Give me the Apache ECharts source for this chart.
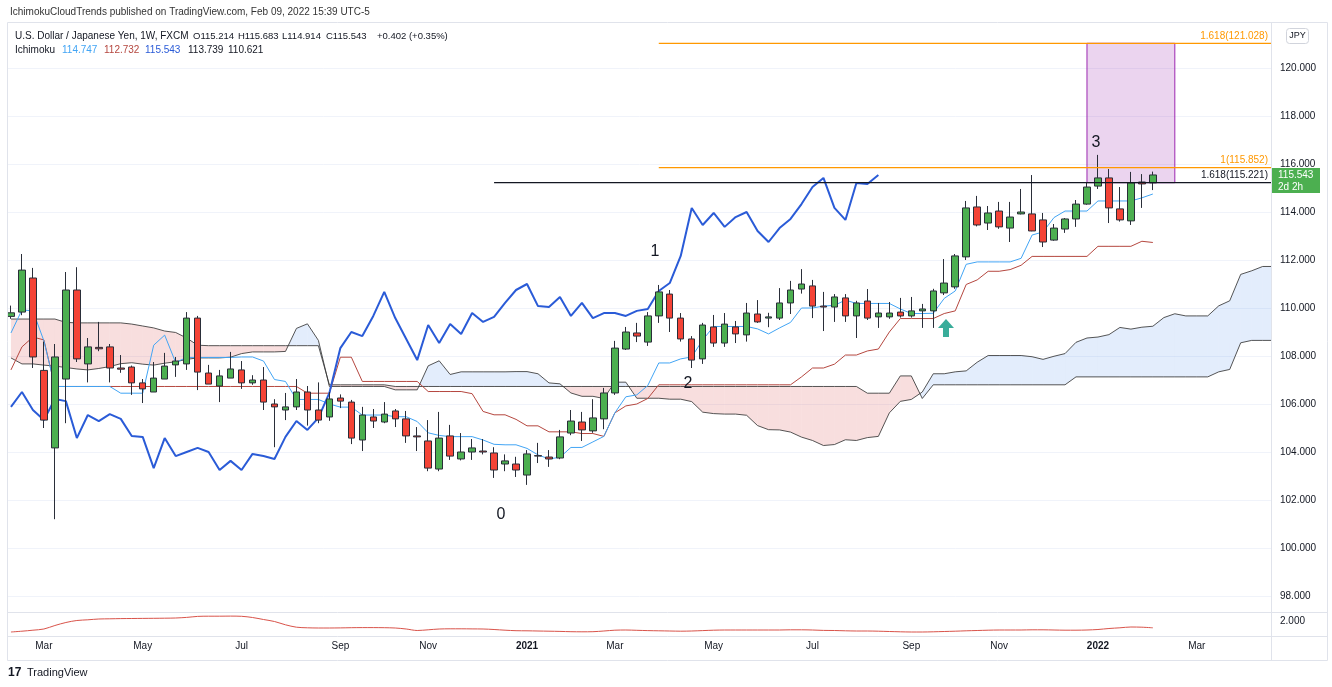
<!DOCTYPE html>
<html><head><meta charset="utf-8">
<script src="https://cdn.jsdelivr.net/npm/echarts@6/dist/echarts.min.js"></script>
<style>html,body{margin:0;padding:0;background:#fff;}#c{width:1332px;height:687px;}</style>
</head><body><div id="c"></div>
<script>
// week index: 0 = week of 2021-01-04 ; first candle = week of 2020-02-10
const FIRST_WEEK = -47;
const DISPLACEMENT = 25;
const CLOUD_FIRST = -47;

const opens = [
109.65,109.83,111.25,107.40,104.17,107.04,110.75,107.67,108.36,108.38,
107.50,107.54,106.88,106.50,107.04,107.63,107.67,109.58,107.29,106.75,
107.08,107.42,106.88,107.00,106.00,105.75,105.88,106.50,105.75,105.46,
106.25,106.08,104.50,105.46,105.25,105.71,105.38,104.67,104.46,103.29,
104.67,103.71,104.00,104.04,103.96,103.50,103.50,103.04,103.85,103.79,
103.75,104.79,105.25,104.88,105.38,106.46,108.29,108.96,108.58,109.67,
110.58,109.58,108.71,107.88,109.21,108.54,109.21,108.88,109.75,109.58,
109.58,110.21,110.79,110.92,110.08,110.04,110.42,109.67,110.29,109.63,
109.63,109.83,109.67,109.88,109.88,110.63,110.88,112.13,114.21,113.54,
114.04,113.33,113.92,113.92,113.67,112.83,113.29,113.71,114.33,115.08,
115.42,114.13,113.63,115.25,115.214];
const closes = [
109.80,111.58,107.96,105.33,107.96,110.75,107.88,108.38,108.30,107.50,
107.45,106.88,106.63,107.08,107.58,107.79,109.58,107.33,106.83,107.17,
107.46,106.88,107.00,106.08,105.88,105.88,106.50,105.75,105.33,106.21,
106.12,104.58,105.54,105.29,105.58,105.38,104.67,104.63,103.33,104.58,
103.83,104.00,104.17,104.00,103.25,103.63,103.25,103.92,103.83,103.71,
104.63,105.29,104.92,105.42,106.46,108.33,109.00,108.83,109.67,110.67,
109.58,108.71,107.83,109.29,108.54,109.33,108.92,109.79,109.42,109.63,
110.21,110.75,111.00,110.08,110.04,110.46,109.67,110.21,109.58,109.79,
109.79,109.67,109.88,109.96,110.71,111.04,112.17,114.17,113.46,113.96,
113.38,113.79,114.00,113.21,112.75,113.33,113.71,114.33,115.04,115.42,
114.17,113.67,115.21,115.17,115.543];
const highs = [
110.10,112.25,111.67,108.60,108.50,111.50,111.70,108.75,109.42,108.50,
108.04,107.60,107.04,107.75,108.13,107.96,109.83,109.67,107.63,107.42,
108.17,107.79,107.20,107.54,106.20,106.46,107.04,106.75,106.90,106.50,
106.40,106.17,105.88,105.79,106.08,105.79,105.71,105.04,105.33,105.67,
105.13,104.79,104.54,104.54,104.20,103.90,103.80,104.08,104.38,104.08,
104.92,105.75,105.67,106.20,106.67,108.63,109.21,109.38,109.83,110.96,
110.75,109.79,108.83,109.38,109.71,109.79,109.46,110.21,110.33,109.80,
110.83,111.13,111.62,111.17,110.67,110.58,110.58,110.30,110.79,110.21,
110.25,110.42,110.46,110.17,110.80,112.04,112.25,114.46,114.67,114.25,
114.42,114.42,114.96,115.54,113.96,113.50,113.75,114.50,115.21,116.38,
115.79,115.04,115.67,115.58,115.683];
const lows = [
109.55,109.70,107.50,105.00,101.20,105.20,107.75,106.90,108.20,106.90,
107.30,106.38,106.04,106.50,107.04,107.13,107.42,106.58,106.83,106.08,
107.08,106.63,106.80,105.75,104.20,105.33,105.75,105.10,105.20,105.30,
105.83,104.33,104.04,105.00,105.20,105.04,104.38,104.04,103.20,103.20,
103.67,103.65,103.67,103.90,102.92,103.20,102.96,102.63,103.54,103.38,
103.70,104.70,104.46,104.80,104.95,106.38,108.25,108.58,108.42,109.38,
109.00,108.60,107.50,107.67,108.38,108.38,108.54,108.60,109.38,109.20,
109.50,109.75,110.60,109.58,109.04,109.42,109.42,108.75,109.50,109.17,
109.55,109.60,109.60,109.17,109.17,110.54,110.80,112.00,113.40,113.25,
113.30,112.75,113.90,113.20,112.54,112.80,113.13,113.38,114.30,114.96,
113.54,113.60,113.46,114.17,114.914];

const tenkan = [
108.96,109.92,109.88,108.63,106.73,106.73,106.73,106.73,106.73,106.73,
106.45,106.45,106.45,108.45,108.87,107.73,107.94,107.94,107.94,107.94,
107.94,107.96,107.96,107.79,107.02,106.94,106.19,106.19,106.19,106.00,
105.87,105.87,105.54,105.54,105.54,105.47,105.47,105.27,104.80,104.69,
104.64,104.64,104.64,104.50,104.32,104.30,104.30,104.15,103.88,103.71,
103.78,104.19,104.19,104.42,104.65,105.63,106.30,106.38,106.77,107.71,
107.71,107.88,107.96,108.67,109.23,109.23,109.23,109.23,109.13,108.92,
109.17,109.40,110.00,110.00,110.08,110.11,110.33,110.19,110.19,110.19,
110.19,109.96,109.77,109.77,109.78,110.40,110.71,111.82,111.92,111.92,
111.92,111.92,112.07,113.04,113.17,113.77,114.04,114.04,114.04,114.46,
114.46,114.46,114.46,114.59,114.75];
const kijun = [
107.42,108.38,108.79,108.67,106.73,106.73,106.73,106.73,106.73,106.73,
106.73,106.73,106.73,106.73,106.73,106.73,106.73,106.73,106.73,106.73,
106.73,106.73,106.73,106.73,106.73,106.73,106.73,106.45,106.45,106.45,
107.95,107.95,106.94,106.94,106.94,106.94,106.94,106.94,106.52,106.52,
106.52,106.52,106.43,105.69,105.55,105.55,105.36,105.09,105.09,104.84,
104.84,104.84,104.77,104.77,104.65,105.63,105.92,106.00,106.23,106.80,
106.80,106.80,106.80,106.80,106.80,106.80,106.80,106.80,106.80,106.80,
106.80,106.80,107.13,107.50,107.50,107.66,108.04,108.04,108.21,108.29,
109.00,109.56,109.56,109.56,109.56,109.77,109.88,110.98,111.17,111.53,
111.53,111.60,111.78,112.15,112.15,112.15,112.15,112.15,112.15,112.57,
112.57,112.57,112.57,112.78,112.73];

// leading spans, plotted positions -47 .. 68
const senkouA = [
107.92,107.67,107.67,107.62,107.58,107.52,107.46,107.42,107.48,107.56,
107.68,107.72,107.66,107.62,107.70,107.76,107.86,107.92,107.92,107.92,
107.95,108.10,108.17,108.17,108.17,108.19,109.15,109.34,108.65,106.73,
106.73,106.73,106.73,106.73,106.73,106.59,106.59,106.59,107.59,107.80,
107.23,107.34,107.34,107.34,107.34,107.34,107.35,107.35,107.26,106.88,
106.84,106.46,106.32,106.32,106.23,106.91,106.91,106.24,106.24,106.24,
106.20,106.20,106.10,105.66,105.60,105.58,105.58,105.53,105.10,104.93,
104.92,104.83,104.62,104.48,104.27,104.31,104.51,104.48,104.60,104.65,
105.63,106.11,106.19,106.50,107.26,107.26,107.34,107.38,107.74,108.02,
108.02,108.02,108.02,107.97,107.86,107.99,108.10,108.57,108.75,108.79,
108.89,109.19,109.12,109.20,109.24,109.60,109.76,109.67,109.67,109.67,
110.09,110.30,111.40,111.55,111.73,111.73];
const senkouB = [
109.54,109.54,109.54,109.54,109.54,109.40,109.38,109.38,109.38,109.38,
109.38,109.33,109.25,109.17,109.04,108.98,108.75,108.45,108.43,108.43,
108.43,108.43,108.43,108.43,108.43,108.43,108.43,108.43,108.43,106.80,
106.80,106.80,106.80,106.80,106.80,106.73,106.73,106.73,106.73,106.73,
106.73,106.73,106.73,106.73,106.73,106.73,106.73,106.73,106.73,106.73,
106.73,106.73,106.73,106.73,106.73,106.73,106.73,106.73,106.73,106.73,
106.73,106.73,106.73,106.73,106.73,106.73,106.73,106.73,106.73,106.73,
106.73,106.73,106.73,106.73,106.73,106.73,106.73,106.73,106.45,106.45,
106.45,107.17,107.17,106.23,106.80,106.80,106.80,106.80,106.80,106.80,
106.80,106.80,106.80,106.80,106.80,106.80,106.80,107.13,107.13,107.13,
107.13,107.13,107.13,107.13,107.13,107.13,107.13,107.13,107.13,107.13,
107.34,107.44,108.55,108.65,108.65,108.65];

// lower pane indicator
const atr = [
0.90,0.98,1.08,1.20,1.55,1.85,2.05,2.12,2.20,2.22,
2.24,2.25,2.26,2.27,2.28,2.30,2.36,2.46,2.48,2.48,
2.49,2.47,2.35,2.15,1.95,1.62,1.38,1.32,1.30,1.30,
1.31,1.33,1.34,1.34,1.33,1.30,1.20,1.05,1.12,1.20,
1.22,1.22,1.21,1.20,1.15,1.08,1.03,1.02,1.00,0.98,
0.96,0.93,0.92,0.93,1.00,1.08,1.10,1.07,1.04,1.02,
1.00,0.98,1.00,1.04,1.08,1.10,1.10,1.10,1.10,1.10,
1.10,1.12,1.12,1.10,1.06,1.05,1.02,1.00,1.00,0.98,
0.95,0.92,0.90,0.90,0.92,0.95,0.98,1.02,1.05,1.08,
1.10,1.10,1.10,1.12,1.12,1.10,1.08,1.08,1.10,1.15,
1.25,1.32,1.40,1.38,1.32];

const monthTicks = [
  {w:-44,label:'Mar'},{w:-35,label:'May'},{w:-26,label:'Jul'},{w:-17,label:'Sep'},{w:-9,label:'Nov'},
  {w:0,label:'2021'},{w:8,label:'Mar'},{w:17,label:'May'},{w:26,label:'Jul'},{w:35,label:'Sep'},
  {w:43,label:'Nov'},{w:52,label:'2022'},{w:61,label:'Mar'}];
const fibLevels = [
  {ratio:'1.618', price:121.028, from:12, kind:'ext'},
  {ratio:'1', price:115.852, from:12, kind:'ext'},
  {ratio:'1.618', price:115.221, from:-3, kind:'base'}];
const boxZone = {from:51, to:59, top:121.028, bottom:115.221};
const waveLabels = [
  {text:'0', w:-2.37, price:101.38},
  {text:'1', w:11.66, price:112.33},
  {text:'2', w:14.66, price:106.83},
  {text:'3', w:51.82, price:116.88}];
const signalArrows = [{w:38.16, price:109.17}];
const legendValues = ['114.747','112.732','115.543','113.739','110.621'];

const X_MIN = -47.27, X_MAX = 67.76;
const FONT = '"Liberation Sans", Arial, sans-serif';
const TXT = '#131722';
const ORANGE = '#ff9800';
const fibColor = f => f.kind === 'ext' ? ORANGE : TXT;

const idx = i => FIRST_WEEK + i;
const candleData = opens.map((o,i)=>[idx(i), o, closes[i], lows[i], highs[i]]);
const tenkanData = tenkan.map((v,i)=>[idx(i), v]);
const kijunData = kijun.map((v,i)=>[idx(i), v]);
const chikouData = closes.map((v,i)=>[idx(i)-DISPLACEMENT, v]).filter(d=>d[0]>=FIRST_WEEK);
const spanA = senkouA.map((v,i)=>[CLOUD_FIRST+i, v]);
const spanB = senkouB.map((v,i)=>[CLOUD_FIRST+i, v]);
const cloudData = senkouA.slice(0,-1).map((a,i)=>[CLOUD_FIRST+i, a, senkouB[i], senkouA[i+1], senkouB[i+1]]);
const atrData = atr.map((v,i)=>[idx(i), v]);
const monthMap = {}; monthTicks.forEach(m=>monthMap[m.w]=m.label);

const BLUE_FILL = 'rgba(90,150,240,0.17)';
const PINK_FILL = 'rgba(220,90,90,0.2)';

function cloudRender(params, api){
  const x0 = api.value(0), a0 = api.value(1), b0 = api.value(2), a1 = api.value(3), b1 = api.value(4);
  const x1 = x0 + 1;
  const P = (x,y)=>api.coord([x,y]);
  const d0 = a0-b0, d1 = a1-b1;
  const kids = [];
  const poly = (pts, up)=>({type:'polygon', shape:{points:pts}, style:{fill: up?BLUE_FILL:PINK_FILL}, silent:true});
  if (d0*d1 >= 0) {
    kids.push(poly([P(x0,a0),P(x1,a1),P(x1,b1),P(x0,b0)], (d0+d1)>=0));
  } else {
    const t = d0/(d0-d1); const xc = x0+t; const yc = a0+t*(a1-a0);
    kids.push(poly([P(x0,a0),P(xc,yc),P(x0,b0)], d0>0));
    kids.push(poly([P(xc,yc),P(x1,a1),P(x1,b1)], d1>0));
  }
  return {type:'group', children:kids};
}

const lineS = (name, data, color, width, z) => ({
  name, type:'line', xAxisIndex:0, yAxisIndex:0, data, showSymbol:false, symbol:'none',
  lineStyle:{color, width, opacity:1}, itemStyle:{color}, z, silent:true, clip:true});

const fibLineSeries = fibLevels.map((f,i)=>lineS('fib'+i, [[f.from, f.price],[X_MAX, f.price]], fibColor(f), 1.2, 7));

const option = {
  animation:false,
  backgroundColor:'#ffffff',
  textStyle:{fontFamily:FONT},
  grid:[
    {left:8, top:20, width:1263, height:576, containLabel:false, outerBoundsMode:'none'},
    {left:8, top:612, width:1263, height:24, containLabel:false, outerBoundsMode:'none'}
  ],
  xAxis:[
    {type:'value', gridIndex:0, min:X_MIN, max:X_MAX, axisLine:{show:false}, axisTick:{show:false}, axisLabel:{show:false}, splitLine:{show:false}},
    {type:'value', gridIndex:1, min:X_MIN, max:X_MAX, axisLine:{show:false}, axisTick:{show:false}, splitLine:{show:false},
     axisLabel:{customValues: monthTicks.map(m=>m.w), margin:5, fontSize:10, color:TXT, fontFamily:FONT,
       formatter: v => { const l = monthMap[v]; return /^\d+$/.test(l) ? '{y|'+l+'}' : l; },
       rich:{y:{fontWeight:'bold', fontSize:10, color:TXT, fontFamily:FONT}}}}
  ],
  yAxis:[
    {type:'value', gridIndex:0, position:'right', min:98, max:122, interval:2,
     axisLine:{show:false}, axisTick:{show:false},
     axisLabel:{formatter:v=>v.toFixed(3), margin:9, fontSize:10, color:TXT, showMaxLabel:false, fontFamily:FONT},
     splitLine:{show:true, lineStyle:{color:'#f0f3fa', width:1}, showMaxLine:false}},
    {type:'value', gridIndex:1, position:'right', min:0.5, max:2.9,
     axisLine:{show:false}, axisTick:{show:false}, splitLine:{show:false},
     axisLabel:{customValues:[2], formatter:v=>v.toFixed(3), margin:9, fontSize:10, color:TXT, fontFamily:FONT}}
  ],
  series:[
    {name:'cloud', type:'custom', xAxisIndex:0, yAxisIndex:0, data:cloudData, renderItem:cloudRender,
     encode:{x:0, y:[1,2,3,4]}, clip:true, z:1, silent:true},
    lineS('Lead 1', spanA, 'rgba(55,55,55,0.85)', 1, 2),
    lineS('Lead 2', spanB, 'rgba(55,55,55,0.85)', 1, 2),
    lineS('Base Line', kijunData, '#b5473f', 1, 3),
    lineS('Conversion Line', tenkanData, '#42a5f5', 1, 3),
    lineS('Lagging Span', chikouData, '#2a5bd7', 2, 3),
    {name:'USDJPY', type:'candlestick', xAxisIndex:0, yAxisIndex:0, data:candleData, barWidth:7, z:5, clip:true,
     itemStyle:{color:'#4caf50', color0:'#f44336', borderColor:'#2a2e39', borderColor0:'#2a2e39', borderWidth:1},
     markArea:{silent:true, data:[[
       {coord:[boxZone.from, boxZone.top], itemStyle:{color:'rgba(156,39,176,0.2)', borderColor:'#9c27b0', borderWidth:1}},
       {coord:[boxZone.to, boxZone.bottom]}]]}
    },
    ...fibLineSeries,
    {name:'signal', type:'scatter', xAxisIndex:0, yAxisIndex:0, z:10, silent:true,
     symbol:'path://M8 0 L16 9 L11 9 L11 18 L5 18 L5 9 L0 9 Z', symbolSize:[16,18],
     itemStyle:{color:'#089981'}, data: signalArrows.map(a=>[a.w, a.price])},
    {name:'ATR', type:'line', xAxisIndex:1, yAxisIndex:1, data:atrData, showSymbol:false, symbol:'none', smooth:0.3,
     lineStyle:{color:'#d9534a', width:1}, silent:true}
  ]
};

const chart = echarts.init(document.getElementById('c'), null, {renderer:'canvas', width:1332, height:687});
chart.setOption(option);

const toPx = (w, price) => chart.convertToPixel({xAxisIndex:0, yAxisIndex:0}, [w, price]);
const lastClose = closes[closes.length-1];
const py = chart.convertToPixel({yAxisIndex:0}, lastClose);
const txt = (text, x, y, opts={}) => ({type:'text', silent:true, z:100,
  style:Object.assign({text, x, y, fill:TXT, fontSize:10, fontFamily:FONT, textAlign:'left', textVerticalAlign:'middle'}, opts)});
const ln = (x1,y1,x2,y2) => ({type:'line', silent:true, z:50, shape:{x1,y1,x2,y2}, style:{stroke:'#e0e3eb', lineWidth:1}});
const legCols = ['#42a5f5','#b5473f','#2a5bd7',TXT,TXT];
const legX = [62,104,145,188,228];
const n = opens.length-1;
const fibTexts = fibLevels.map(f=>{
  const p = toPx(X_MAX, f.price);
  return txt(f.ratio+'('+f.price.toFixed(3)+')', p[0]-3, p[1]-2, {fill:fibColor(f), textAlign:'right', textVerticalAlign:'bottom'});
});
const waveTexts = waveLabels.map(a=>{
  const p = toPx(a.w, a.price);
  return txt(a.text, p[0], p[1], {fontSize:16, textAlign:'center'});
});
const graphics = [
  {type:'rect', silent:true, z:50, shape:{x:7.5,y:22.5,width:1320,height:638}, style:{fill:null, stroke:'#e0e3eb', lineWidth:1}},
  ln(1271.5,22.5,1271.5,660.5),
  ln(7.5,612.5,1327.5,612.5),
  ln(7.5,636.5,1327.5,636.5),
  txt('IchimokuCloudTrends published on TradingView.com, Feb 09, 2022 15:39 UTC-5', 10, 12, {fontSize:10, fill:'#333'}),
  txt('U.S. Dollar / Japanese Yen, 1W, FXCM', 15, 36),
  txt('O'+opens[n].toFixed(3), 193, 36, {fontSize:9.5}),
  txt('H'+highs[n].toFixed(3), 238, 36, {fontSize:9.5}),
  txt('L'+lows[n].toFixed(3), 282, 36, {fontSize:9.5}),
  txt('C'+closes[n].toFixed(3), 326, 36, {fontSize:9.5}),
  txt('+0.402 (+0.35%)', 377, 36, {fontSize:9.5}),
  txt('Ichimoku', 15, 50),
  ...legendValues.map((v,i)=>txt(v, legX[i], 50, {fill:legCols[i]})),
  ...fibTexts,
  ...waveTexts,
  {type:'rect', silent:true, z:60, shape:{x:1286.5,y:28.5,width:22,height:15,r:3}, style:{fill:'#fff', stroke:'#d1d4dc', lineWidth:1}},
  txt('JPY', 1297.5, 36, {textAlign:'center', fontSize:9}),
  {type:'rect', silent:true, z:60, shape:{x:1272,y:py-7,width:48,height:25}, style:{fill:'#4caf50'}},
  txt(lastClose.toFixed(3), 1278, py+0.5, {fill:'#fff', fontSize:10, z:101}),
  txt('2d 2h', 1278, py+12, {fill:'#fff', fontSize:10, z:101}),
  txt('17', 8, 673, {fontSize:12, fontWeight:'bold', fill:TXT}),
  txt('TradingView', 27, 673, {fontSize:11, fill:TXT})
];
chart.setOption({graphic: graphics});
</script>
</body></html>
